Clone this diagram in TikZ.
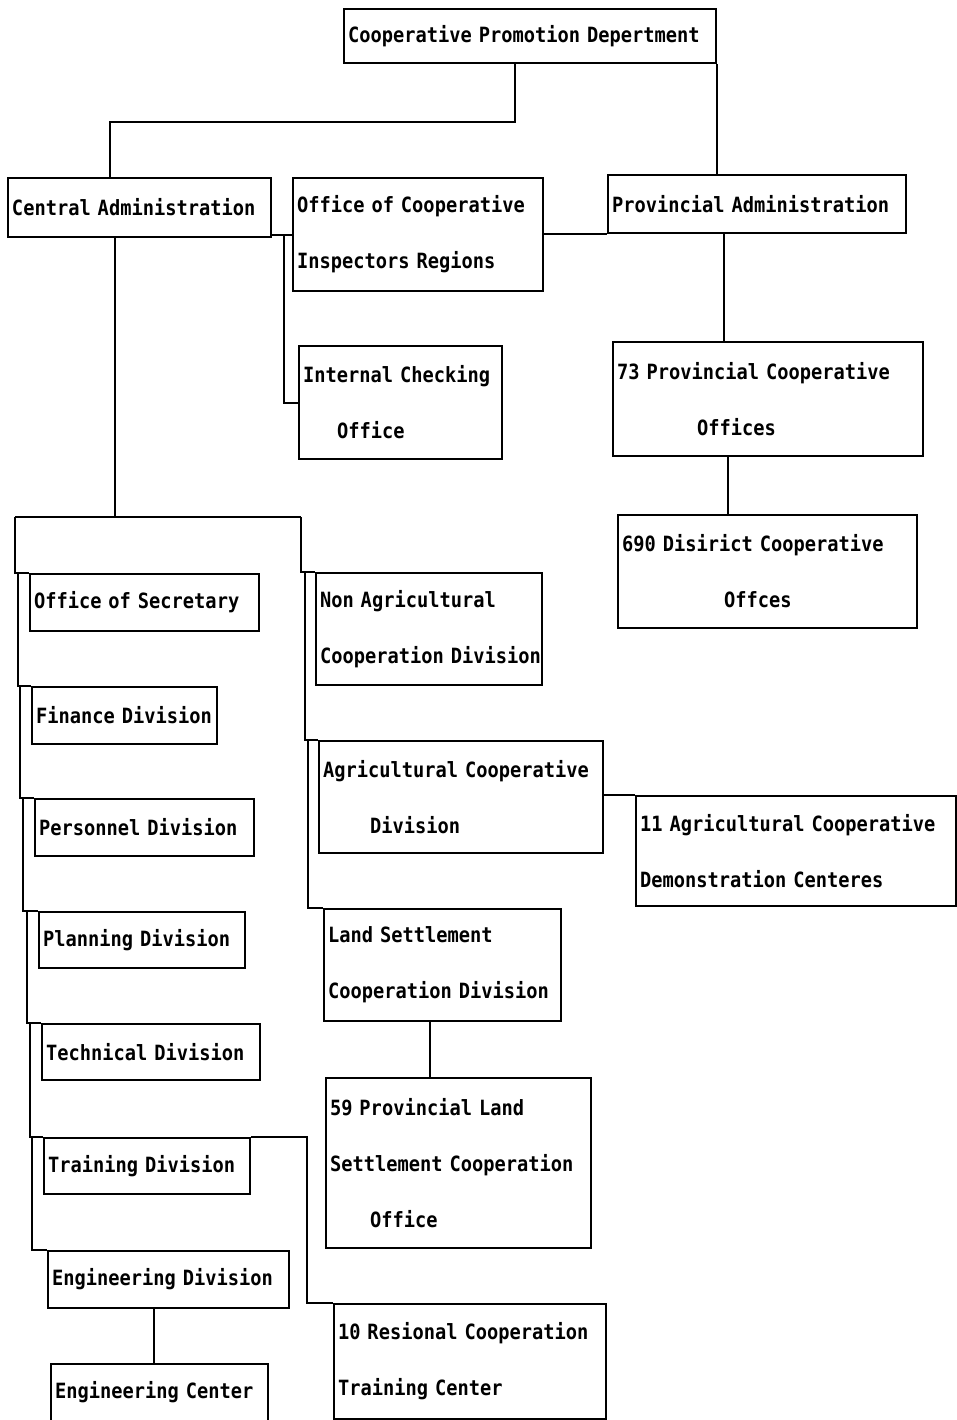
\documentclass[tikz,border=0pt]{standalone}
\usepackage{fontspec}
\newfontfamily\orgfont{DejaVu Sans Mono}[FakeStretch=0.89]
\tikzset{
  unit/.style={draw, line width=2pt, anchor=north west, align=left, inner xsep=4pt, inner ysep=0pt,
    font={\orgfont\bfseries\fontsize{21pt}{56pt}\selectfont\hyphenpenalty=10000}},
  link/.style={line width=2pt},
}
\begin{document}
\begin{tikzpicture}[x=1pt,y=-1pt]
\useasboundingbox (0,0) rectangle (956,1420);

\node[unit, text width=364pt, minimum height=54pt] (cpd) at (343,8) {Cooperative Promotion Depertment};
\node[unit, text width=255pt, minimum height=59pt] (ca) at (7,177) {Central Administration};
\node[unit, text width=242pt, minimum height=113pt] (ocir) at (292,177) {Office of Cooperative\\Inspectors Regions};
\node[unit, text width=290pt, minimum height=58pt] (pa) at (607,174) {Provincial Administration};
\node[unit, text width=195pt, minimum height=113pt] (ico) at (298,345) {\mbox{Internal Checking}\\\hspace*{34pt}Office};
\node[unit, text width=302pt, minimum height=114pt] (pco) at (612,341) {73 Provincial Cooperative\\\hspace*{80pt}Offices};
\node[unit, text width=291pt, minimum height=113pt] (dco) at (617,514) {690 Disirict Cooperative\\\hspace*{102pt}Offces};

\node[unit, text width=221pt, minimum height=57pt] (sec) at (29,573) {Office of Secretary};
\node[unit, text width=177pt, minimum height=57pt] (fin) at (31,686) {\mbox{Finance Division}};
\node[unit, text width=211pt, minimum height=57pt] (per) at (34,798) {Personnel Division};
\node[unit, text width=198pt, minimum height=56pt] (pla) at (38,911) {Planning Division};
\node[unit, text width=210pt, minimum height=56pt] (tec) at (41,1023) {Technical Division};
\node[unit, text width=198pt, minimum height=56pt] (tra) at (43,1137) {Training Division};
\node[unit, text width=233pt, minimum height=57pt] (eng) at (47,1250) {Engineering Division};
\node[unit, text width=209pt, minimum height=57pt] (ecn) at (50,1363) {Engineering Center};

\node[unit, text width=218pt, minimum height=112pt] (nac) at (315,572) {Non Agricultural\\\mbox{Cooperation Division}};
\node[unit, text width=276pt, minimum height=112pt] (acd) at (318,740) {Agricultural Cooperative\\\hspace*{47pt}Division};
\node[unit, text width=312pt, minimum height=110pt] (adc) at (635,795) {11 Agricultural Cooperative\\Demonstration Centeres};
\node[unit, text width=229pt, minimum height=112pt] (lsd) at (323,908) {Land Settlement\\Cooperation Division};
\node[unit, text width=257pt, minimum height=170pt] (plso) at (325,1077) {59 Provincial Land\\Settlement Cooperation\\\hspace*{40pt}Office};
\node[unit, text width=264pt, minimum height=115pt] (rct) at (333,1303) {10 Resional Cooperation\\Training Center};

\coordinate (lt) at (15,517);
\coordinate (rt) at (301,517);

\draw[link] ([xshift=-15pt]cpd.south) -- ++(0,58) -| ([xshift=-30pt]ca.north);
\draw[link] (cpd.south east) -- (cpd.south east |- pa.north);
\draw[link] ([yshift=3pt]ca.south east) -- ([yshift=3pt]ca.south east -| ocir.west);
\draw[link] (ocir.east |- pa.south) -- (pa.south west);
\draw[link] ([xshift=12pt,yshift=3pt]ca.south east) |- (ico.west);
\draw[link] ([xshift=-33pt]pa.south) -- ([xshift=-33pt]pa.south |- pco.north);
\draw[link] ([xshift=-40pt]pco.south) -- ([xshift=-40pt]pco.south |- dco.north);

\draw[link] ([xshift=-25pt]ca.south) -- ([xshift=-25pt]ca.south |- lt);
\draw[link] (lt) -- (rt);
\draw[link] (lt) |- (sec.north west);
\foreach \a/\b in {sec/fin, fin/per, per/pla, pla/tec, tec/tra, tra/eng}
  \draw[link] ([xshift=-11pt]\a.north west) |- (\b.north west);
\draw[link] (rt) |- (nac.north west);
\draw[link] ([xshift=-10pt]nac.north west) |- (acd.north west);
\draw[link] ([xshift=-10pt]acd.north west) |- (lsd.north west);

\draw[link] (acd.east |- adc.north) -- (adc.north west);
\draw[link] ([xshift=-13pt]lsd.south) -- ([xshift=-13pt]lsd.south |- plso.north);
\draw[link] (tra.north east) -- ++(56,0) |- (rct.north west);
\draw[link] ([xshift=-15pt]eng.south) -- ([xshift=-15pt]eng.south |- ecn.north);

\end{tikzpicture}
\end{document}
